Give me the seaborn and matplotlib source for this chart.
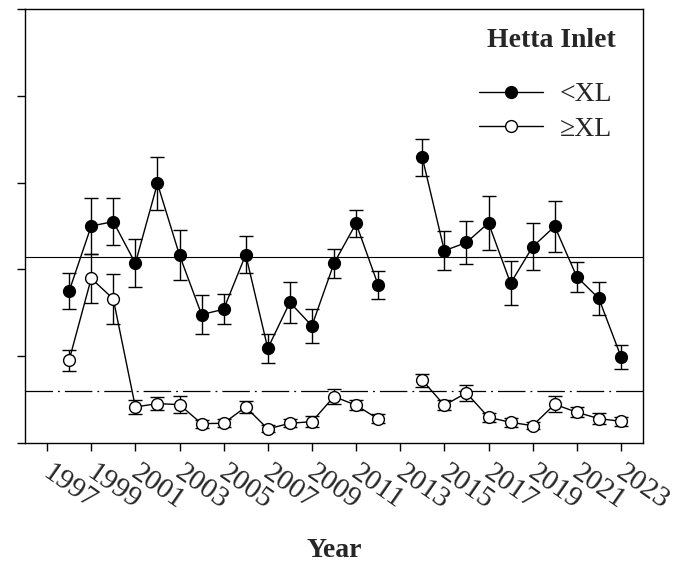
import numpy as np
import pandas as pd
import matplotlib
matplotlib.use('Agg')
import matplotlib.pyplot as plt
import matplotlib.transforms as mtransforms
from matplotlib.lines import Line2D
import seaborn as sns

# ---------------------------------------------------------------------------
# data (arbitrary y units, axis has no labels)
years = [1998, 1999, 2000, 2001, 2002, 2003, 2004, 2005, 2006, 2007, 2008,
         2009, 2010, 2011, 2012, 2014, 2015, 2016, 2017, 2018, 2019, 2020,
         2021, 2022, 2023]
small = [17.5, 25.0, 25.5, 20.7, 29.9, 21.65, 14.8, 15.4, 21.7, 10.9, 16.2,
         13.5, 20.7, 25.3, 18.2, 32.9, 22.15, 23.1, 25.35, 18.4, 22.6, 24.96,
         19.15, 16.65, 9.96]
small_err = [2.04, 3.2, 2.7, 2.75, 3.0, 2.87, 2.2, 1.73, 2.17, 1.71, 2.38,
             1.98, 1.67, 1.56, 1.65, 2.13, 2.25, 2.46, 3.15, 2.52, 2.7, 2.9,
             1.75, 1.9, 1.38]
large = [9.54, 18.96, 16.6, 4.15, 4.54, 4.42, 2.23, 2.27, 4.15, 1.62, 2.27,
         2.46, 5.35, 4.35, 2.77, 7.23, 4.35, 5.77, 2.96, 2.38, 2.0, 4.46,
         3.54, 2.81, 2.5]
large_err = [1.21, 2.85, 2.85, 0.81, 0.71, 1.02, 0.46, 0.46, 0.69, 0.4, 0.48,
             0.62, 0.88, 0.6, 0.52, 0.77, 0.6, 0.96, 0.54, 0.5, 0.4, 0.94,
             0.56, 0.65, 0.5]
small_mean = 21.46
large_mean = 5.96
tick_years = list(range(1997, 2024, 2))

df = pd.DataFrame({'year': years, 'small': small, 'small_err': small_err,
                   'large': large, 'large_err': large_err})
# no survey in 2013 -> break the lines there
df['seg'] = np.where(df['year'] < 2013, 0, 1)

sns.set_style('ticks')
plt.rcParams['font.family'] = ['Liberation Serif', 'DejaVu Serif']
plt.rcParams['axes.linewidth'] = 1.0

fig = plt.figure(figsize=(6.76, 5.73), dpi=100)
ax = fig.add_axes([25 / 676, 130 / 573, 618 / 676, 434 / 573])

# reference lines
ax.axhline(small_mean, color='black', lw=0.8, zorder=1)
ax.axhline(large_mean, color='black', lw=0.9, dashes=(22, 4, 1.5, 4), zorder=1)

# error bars
ax.errorbar(df['year'], df['small'], yerr=df['small_err'], fmt='none',
            ecolor='black', elinewidth=1.0, capsize=4.8, capthick=1.0, zorder=2)
ax.errorbar(df['year'], df['large'], yerr=df['large_err'], fmt='none',
            ecolor='black', elinewidth=1.0, capsize=4.8, capthick=1.0, zorder=2)

sns.lineplot(data=df, x='year', y='small', units='seg', estimator=None,
             color='black', lw=1.0, marker='o', markersize=8.5,
             markerfacecolor='black', markeredgecolor='black',
             markeredgewidth=1.0, ax=ax, zorder=3)
sns.lineplot(data=df, x='year', y='large', units='seg', estimator=None,
             color='black', lw=1.0, marker='o', markersize=8.5,
             markerfacecolor='white', markeredgecolor='black',
             markeredgewidth=1.0, ax=ax, zorder=3)

ax.set_xlim(1996, 2024)
ax.set_ylim(0, 50)
ax.set_yticks(range(0, 51, 10))
ax.set_yticklabels([])
ax.set_xticks(tick_years)
ax.set_xticklabels([str(y) for y in tick_years], fontsize=21, rotation=-35,
                   ha='left', va='top', rotation_mode='anchor')
ax.tick_params(axis='both', direction='out', length=6, width=1.0,
               color='black', pad=6)
# nudge the slanted year labels a little to the right
shift = mtransforms.ScaledTranslation(4 / 72, 0, fig.dpi_scale_trans)
for lab in ax.get_xticklabels():
    lab.set_transform(lab.get_transform() + shift)

ax.set_ylabel('')
ax.set_xlabel('Year', fontsize=20, fontweight='bold', va='baseline')
ax.xaxis.set_label_coords(0.5, (443 - 557) / 434)

for side in ['top', 'right', 'left', 'bottom']:
    ax.spines[side].set_visible(True)
    ax.spines[side].set_color('black')

ax.text(0.851, 0.912, 'Hetta Inlet', transform=ax.transAxes, fontsize=20,
        fontweight='bold', ha='center', va='baseline')

handles = [
    Line2D([], [], color='black', lw=1.0, marker='o', markersize=8.5,
           markerfacecolor='black', markeredgecolor='black'),
    Line2D([], [], color='black', lw=1.0, marker='o', markersize=8.5,
           markerfacecolor='white', markeredgecolor='black'),
]
ax.legend(handles, ['<XL', '\u2265XL'], loc='upper left',
          bbox_to_anchor=(0.7346, 0.832), frameon=False, fontsize=20,
          handlelength=2.3, handletextpad=0.6, labelspacing=0.32,
          borderpad=0, borderaxespad=0)

fig.savefig('out.png', dpi=100)
